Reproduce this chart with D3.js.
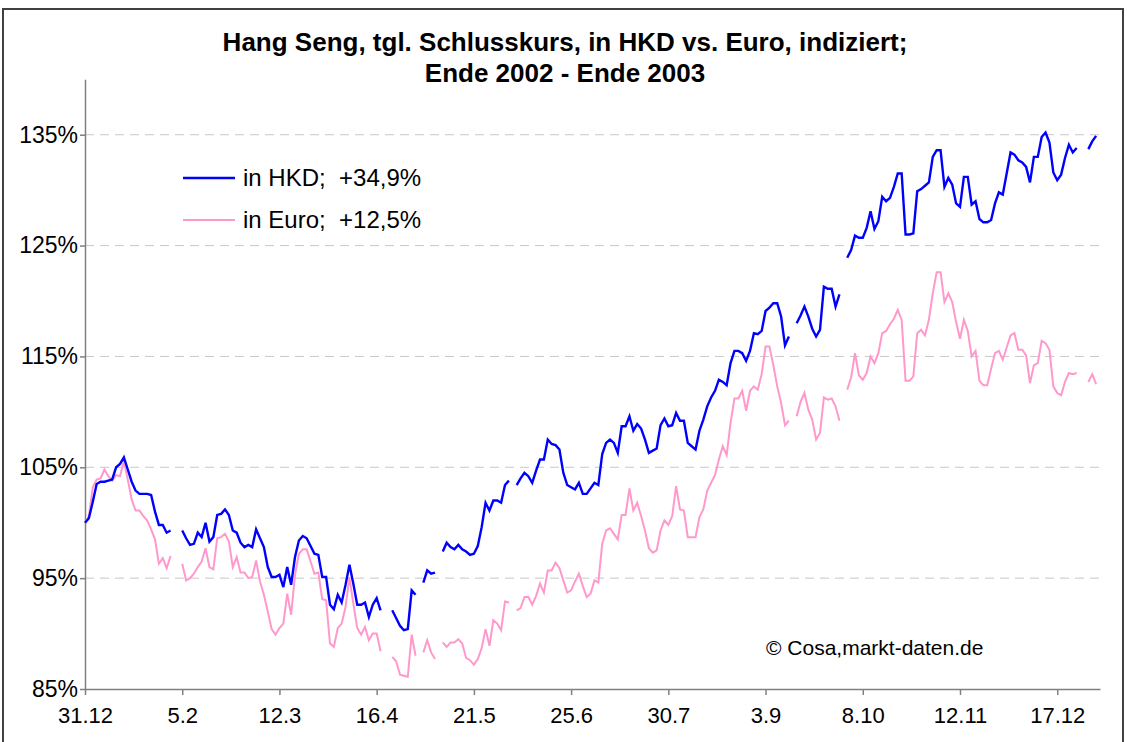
<!DOCTYPE html>
<html>
<head>
<meta charset="utf-8">
<script src="https://cdn.jsdelivr.net/npm/d3@7"></script>
<style>
  body { margin: 0; background: #fff; }
  svg { display: block; }
  text { font-family: "Liberation Sans", Arial, sans-serif; }
</style>
</head>
<body>
<svg id="chart" width="1127" height="742"></svg>
<script>
// tick labels every 25 weekdays (31.12.2002 ... 17.12.2003)
const tickLabels = ["31.12", "5.2", "12.3", "16.4", "21.5", "25.6", "30.7", "3.9", "8.10", "12.11", "17.12"];
const tickIndex = [0, 25, 50, 75, 100, 125, 150, 175, 200, 225, 250];
const yTicks = [85, 95, 105, 115, 125, 135];

// index value (31.12.2002 = 100), one entry per weekday, null = HK holiday
const hkd = [
  100.0, 100.4, 101.9, 103.5, 103.7, 103.7, 103.8, 103.9, 105.0, 105.3,
  105.9, 104.8, 103.7, 102.9, 102.6, 102.6, 102.6, 102.5, 101.0, 99.8,
  99.8, 99.1, 99.3, null, null, 99.3, 98.6, 98.0, 98.1, 99.1,
  98.7, 100.0, 98.3, 98.7, 100.7, 100.8, 101.2, 100.7, 99.3, 99.1,
  98.2, 97.8, 98.0, 97.8, 99.4, 98.6, 97.8, 96.0, 95.1, 95.1,
  95.3, 94.2, 96.0, 94.4, 96.9, 98.4, 98.8, 98.6, 97.9, 97.2,
  97.1, 95.1, 95.1, 92.6, 92.2, 93.5, 92.8, 94.4, 96.2, 94.5,
  92.6, 92.6, 92.8, 91.5, 92.6, 93.2, 92.1, null, null, 92.1,
  91.4, 90.7, 90.3, 90.4, 93.9, 93.5, null, 94.6, 95.7, 95.4,
  95.5, null, 97.4, 98.2, 97.8, 97.6, 98.0, 97.6, 97.4, 97.1,
  97.2, 97.9, 99.6, 101.8, 101.1, 102.0, 102.0, 101.8, 103.4, 103.8,
  null, 103.4, 104.0, 104.5, 104.2, 103.6, 104.7, 105.7, 105.7, 107.5,
  107.1, 107.0, 106.6, 104.5, 103.4, 103.2, 103.0, 103.6, 102.6, 102.6,
  103.1, 103.6, 103.4, 106.2, 107.2, 107.5, 107.2, 106.3, 108.7, 108.7,
  109.6, 108.3, 108.9, 108.5, 107.5, 106.3, 106.5, 106.7, 108.8, 109.4,
  108.7, 108.8, 109.9, 109.2, 109.2, 107.2, 106.9, 106.6, 108.3, 109.3,
  110.5, 111.3, 111.9, 112.9, 112.7, 112.4, 114.4, 115.5, 115.5, 115.3,
  114.6, 115.5, 117.1, 117.0, 117.3, 119.1, 119.4, 119.8, 119.8, 118.6,
  116.0, 116.8, null, 118.0, 118.7, 119.5, 118.6, 117.5, 116.8, 117.4,
  121.3, 121.1, 121.1, 119.5, 120.6, null, 123.9, 124.6, 125.9, 125.7,
  125.7, 126.6, 128.1, 126.5, 127.2, 129.4, 129.0, 129.3, 130.3, 131.5,
  131.5, 126.0, 126.0, 126.1, 129.9, 130.1, 130.4, 130.7, 133.0, 133.6,
  133.6, 130.3, 131.1, 130.5, 128.8, 128.5, 131.2, 131.2, 128.7, 129.0,
  127.4, 127.1, 127.1, 127.3, 128.8, 129.8, 129.6, 131.5, 133.4, 133.2,
  132.7, 132.5, 132.1, 130.7, 133.0, 133.0, 134.8, 135.2, 134.3, 131.6,
  130.9, 131.4, 132.9, 134.1, 133.4, 133.8, null, null, 133.7, 134.4,
  134.9
];

const euro = [
  100.0, 100.6, 103.2, 103.9, 104.0, 104.8, 104.2, 103.8, 104.3, 104.2,
  105.6, 103.9, 102.1, 101.1, 101.1, 100.6, 100.2, 99.4, 98.5, 96.3,
  96.8, 95.9, 97.0, null, null, 96.3, 94.8, 95.0, 95.4, 96.0,
  96.5, 97.7, 96.0, 95.8, 98.6, 98.7, 99.0, 98.3, 96.0, 96.9,
  95.5, 95.5, 95.0, 95.1, 96.6, 94.7, 93.5, 92.0, 90.4, 89.9,
  90.5, 90.9, 93.6, 91.7, 95.3, 97.2, 97.6, 97.6, 96.5, 95.4,
  95.5, 93.1, 93.0, 89.1, 88.8, 90.5, 90.9, 92.4, 95.1, 92.7,
  90.5, 89.9, 90.6, 89.4, 90.0, 90.0, 88.4, null, null, 87.9,
  87.5, 86.3, 86.2, 86.1, 89.9, 88.0, null, 88.3, 89.4, 88.3,
  87.7, null, 89.2, 88.8, 89.2, 89.2, 89.5, 89.1, 87.8, 87.6,
  87.2, 87.7, 88.7, 90.4, 88.9, 91.2, 90.9, 90.3, 92.9, 92.8,
  null, 92.1, 92.3, 93.3, 93.3, 92.6, 93.4, 94.5, 93.7, 95.7,
  95.7, 96.4, 95.9, 94.8, 93.7, 93.9, 94.7, 95.4, 94.3, 93.3,
  93.6, 94.8, 94.6, 98.1, 99.3, 99.5, 99.0, 98.5, 100.7, 100.7,
  103.1, 101.1, 101.8, 100.6, 99.3, 97.7, 97.3, 97.5, 99.3, 100.2,
  99.8, 100.6, 103.3, 101.2, 101.1, 98.7, 98.7, 98.7, 100.5, 101.2,
  102.9, 103.6, 104.3, 105.7, 106.9, 106.1, 109.0, 111.2, 111.2, 111.9,
  110.1, 111.9, 112.3, 112.0, 113.4, 115.9, 115.9, 114.2, 112.3, 110.8,
  108.8, 109.2, null, 109.6, 110.9, 111.7, 110.2, 109.3, 107.5, 108.1,
  111.3, 111.1, 111.2, 110.5, 109.2, null, 112.0, 113.1, 115.3, 113.3,
  112.9, 113.5, 115.0, 114.4, 115.3, 117.1, 117.3, 117.9, 118.4, 119.2,
  118.3, 112.8, 112.8, 113.2, 117.1, 117.4, 116.9, 118.3, 120.7, 122.6,
  122.6, 119.9, 120.7, 119.9, 118.1, 116.6, 118.3, 117.3, 115.0, 115.5,
  112.8, 112.4, 112.4, 113.9, 115.3, 115.5, 114.7, 115.8, 116.9, 117.1,
  115.6, 115.6, 115.1, 112.6, 114.2, 114.4, 116.4, 116.2, 115.6, 112.3,
  111.7, 111.5, 112.7, 113.5, 113.4, 113.5, null, null, 112.7, 113.4,
  112.5
];

const seriesNames = ["in HKD;  +34,9%", "in Euro;  +12,5%"];
const seriesColors = ["#0000ff", "#ff99cc"];

const svg = d3.select("#chart");

// outer chart frame
svg.append("rect")
  .attr("x", 3).attr("y", 9)
  .attr("width", 1120).attr("height", 740)
  .attr("fill", "#fff")
  .attr("stroke", "#404040")
  .attr("stroke-width", 2);

const x = d3.scaleLinear().domain([0, 261]).range([85, 1100]);
const y = d3.scaleLinear().domain([85, 140]).range([689, 79.3]);

// title
svg.append("text")
  .attr("x", 565).attr("y", 51)
  .attr("text-anchor", "middle")
  .style("font-size", "26px").style("font-weight", "bold")
  .text("Hang Seng, tgl. Schlusskurs, in HKD vs. Euro, indiziert;");
svg.append("text")
  .attr("x", 565).attr("y", 82)
  .attr("text-anchor", "middle")
  .style("font-size", "26px").style("font-weight", "bold")
  .text("Ende 2002 - Ende 2003");

// gridlines
svg.append("g")
  .selectAll("line")
  .data(yTicks.slice(1))
  .enter()
  .append("line")
  .attr("x1", 85).attr("x2", 1100)
  .attr("y1", d => y(d)).attr("y2", d => y(d))
  .attr("stroke", "#c8c8c8")
  .attr("stroke-dasharray", "9,6");

// axes
const yAxis = svg.append("g")
  .attr("transform", "translate(85,0)")
  .call(d3.axisLeft(y).tickValues(yTicks).tickFormat(d => d + "%").tickSize(5).tickSizeOuter(0));

const xAxis = svg.append("g")
  .attr("transform", `translate(0,${y(85)})`)
  .call(d3.axisBottom(x).tickValues(tickIndex).tickFormat((d, i) => tickLabels[i]).tickSize(6).tickSizeOuter(0));

[yAxis, xAxis].forEach(a => {
  a.select(".domain").attr("stroke", "#808080").attr("stroke-width", 1.5);
  a.selectAll(".tick line").attr("stroke", "#808080").attr("stroke-width", 1.5);
  a.selectAll("text")
    .attr("fill", "#000")
    .style("font-family", "'Liberation Sans', Arial, sans-serif")
    .style("font-size", "22px");
});
yAxis.selectAll("text").attr("x", -7).style("font-size", "23px");
xAxis.selectAll("text").attr("y", 18);

// lines
const line = d3.line()
  .defined(d => d != null)
  .x((d, i) => x(i))
  .y(d => y(d));

svg.append("path")
  .datum(euro)
  .attr("fill", "none")
  .attr("stroke", seriesColors[1])
  .attr("stroke-width", 2)
  .attr("d", line);

svg.append("path")
  .datum(hkd)
  .attr("fill", "none")
  .attr("stroke", seriesColors[0])
  .attr("stroke-width", 2.4)
  .attr("d", line);

// legend
const legend = svg.append("g");
seriesNames.forEach((name, i) => {
  const ly = 178 + i * 42;
  legend.append("line")
    .attr("x1", 183).attr("x2", 235)
    .attr("y1", ly).attr("y2", ly)
    .attr("stroke", seriesColors[i])
    .attr("stroke-width", i === 0 ? 2.4 : 2);
  legend.append("text")
    .attr("x", 243).attr("y", ly + 8)
    .style("font-size", "24px")
    .style("white-space", "pre")
    .attr("xml:space", "preserve")
    .text(name);
});

// source
svg.append("text")
  .attr("x", 766).attr("y", 655)
  .style("font-size", "21px")
  .text("\u00a9 Cosa,markt-daten.de");
</script>
</body>
</html>
